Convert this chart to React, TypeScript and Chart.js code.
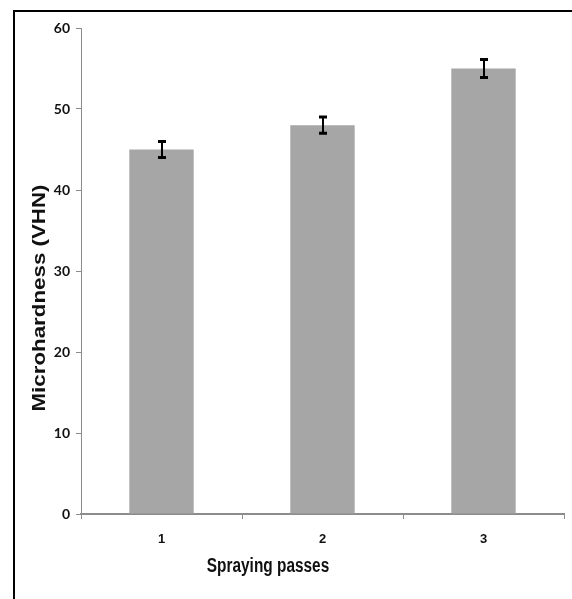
import React, { useEffect, useRef } from "react";
import { Chart, registerables } from "chart.js";

Chart.register(...registerables);

const categories = ["1", "2", "3"];
const hardness = [45, 48, 55];
const hardnessError = [1.0, 1.0, 1.1];
const yMin = 0;
const yMax = 60;
const yStep = 10;
const xTitle = "Spraying passes";
const yTitle = "Microhardness (VHN)";

const errorBarPlugin = {
  id: "errorBars",
  afterDatasetsDraw(chart: any) {
    const ctx = chart.ctx;
    const xs = chart.scales.x;
    const ys = chart.scales.y;
    ctx.save();
    ctx.strokeStyle = "#000";
    hardness.forEach((v, i) => {
      const e = hardnessError[i];
      const x = Math.round(xs.getPixelForValue(i));
      const yt = ys.getPixelForValue(v + e);
      const yb = ys.getPixelForValue(v - e);
      ctx.lineWidth = 2;
      ctx.beginPath();
      ctx.moveTo(x, yt);
      ctx.lineTo(x, yb);
      ctx.stroke();
      ctx.lineWidth = 3;
      ctx.beginPath();
      ctx.moveTo(x - 4, yt);
      ctx.lineTo(x + 4, yt);
      ctx.moveTo(x - 4, yb);
      ctx.lineTo(x + 4, yb);
      ctx.stroke();
    });
    ctx.restore();
  },
};

const titlesPlugin = {
  id: "axisTitles",
  afterDraw(chart: any) {
    const ctx = chart.ctx;
    const area = chart.chartArea;
    ctx.save();
    ctx.fillStyle = "#111";
    ctx.textAlign = "center";
    ctx.textBaseline = "middle";
    // x title (condensed)
    ctx.save();
    ctx.translate(area.left + 187, area.bottom + 52);
    ctx.scale(0.77, 1);
    ctx.font = "bold 20px 'Liberation Sans', Arial, sans-serif";
    ctx.fillText(xTitle, 0, 0);
    ctx.restore();
    // y title (stretched)
    ctx.save();
    ctx.translate(40, (area.top + area.bottom) / 2 + 27);
    ctx.rotate(-Math.PI / 2);
    ctx.scale(1.24, 1);
    ctx.font = "bold 18px 'Liberation Sans', Arial, sans-serif";
    ctx.fillText(yTitle, 0, 0);
    ctx.restore();
    ctx.restore();
  },
};

export default function App() {
  const ref = useRef<HTMLCanvasElement | null>(null);

  useEffect(() => {
    if (!ref.current) return;
    const chart = new Chart(ref.current, {
      type: "bar",
      data: {
        labels: categories,
        datasets: [
          {
            data: hardness,
            backgroundColor: "#a6a6a6",
            borderWidth: 0,
            barPercentage: 0.4,
            categoryPercentage: 1.0,
          },
        ],
      },
      options: {
        responsive: false,
        animation: false,
        layout: { padding: { left: 0, top: 28, right: 8, bottom: 0 } },
        plugins: {
          legend: { display: false },
          tooltip: { enabled: false },
          title: { display: false },
        },
        scales: {
          x: {
            offset: true,
            grid: {
              display: true,
              offset: true,
              drawOnChartArea: false,
              drawTicks: true,
              tickLength: 5,
              color: "#8c8c8c",
              lineWidth: 1,
            },
            border: { display: true, color: "#8c8c8c", width: 2 },
            ticks: {
              padding: 13,
              color: "#111",
              font: { family: "'Liberation Sans', Arial, sans-serif", size: 13, weight: "bold" },
            },
            afterFit(scale: any) {
              scale.height = 85;
            },
          },
          y: {
            min: yMin,
            max: yMax,
            grid: {
              display: true,
              drawOnChartArea: false,
              drawTicks: true,
              tickLength: 5,
              color: "#8c8c8c",
              lineWidth: 1,
            },
            border: { display: true, color: "#8c8c8c", width: 1 },
            ticks: {
              stepSize: yStep,
              padding: 6,
              color: "#111",
              font: { family: "Lato, 'Open Sans', sans-serif", size: 14, weight: "bold" },
            },
            afterFit(scale: any) {
              scale.width = 81;
            },
          },
        },
      },
      plugins: [errorBarPlugin, titlesPlugin],
    });
    return () => chart.destroy();
  }, []);

  return (
    <div style={{ position: "absolute", left: 0, top: 0, width: 572, height: 599, background: "#fff", overflow: "hidden" }}>
      <canvas ref={ref} width={572} height={599} style={{ position: "absolute", left: 0, top: 0 }} />
      <div style={{ position: "absolute", left: 13, top: 10, width: 2, height: 589, background: "#000" }} />
      <div style={{ position: "absolute", left: 13, top: 10, width: 559, height: 2, background: "#000" }} />
    </div>
  );
}
